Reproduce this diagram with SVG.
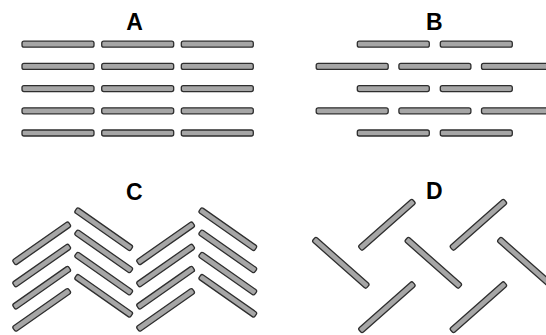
<svg xmlns="http://www.w3.org/2000/svg" xmlns:xlink="http://www.w3.org/1999/xlink" width="546" height="335" viewBox="0 0 546 335">
<style>
.bar{fill:#a6a6a6;stroke:#2e2e2e;stroke-width:1.3}
.lbl{font-family:"Liberation Sans",Arial,sans-serif;font-weight:bold;font-size:23px;fill:#000;text-anchor:middle}
</style>
<defs>
<rect id="h" class="bar" x="-36" y="-3" width="72" height="6" rx="2"/>
<rect id="c" class="bar" x="-34" y="-3" width="68" height="6" rx="2"/>
<rect id="d" class="bar" x="-36" y="-3" width="72" height="6" rx="2"/>
</defs>
<rect width="546" height="335" fill="#fff"/>
<g id="panelA">
<text class="lbl" x="134.5" y="30.3">A</text>
<use href="#h" transform="translate(58,44.2)"/><use href="#h" transform="translate(137.7,44.2)"/><use href="#h" transform="translate(217.3,44.2)"/>
<use href="#h" transform="translate(58,66.4)"/><use href="#h" transform="translate(137.7,66.4)"/><use href="#h" transform="translate(217.3,66.4)"/>
<use href="#h" transform="translate(58,88.6)"/><use href="#h" transform="translate(137.7,88.6)"/><use href="#h" transform="translate(217.3,88.6)"/>
<use href="#h" transform="translate(58,110.8)"/><use href="#h" transform="translate(137.7,110.8)"/><use href="#h" transform="translate(217.3,110.8)"/>
<use href="#h" transform="translate(58,133)"/><use href="#h" transform="translate(137.7,133)"/><use href="#h" transform="translate(217.3,133)"/>
</g>
<g id="panelB">
<text class="lbl" x="434.2" y="29.8">B</text>
<use href="#h" transform="translate(393.3,44.2)"/><use href="#h" transform="translate(476.3,44.2)"/>
<use href="#h" transform="translate(352.2,66.4)"/><use href="#h" transform="translate(434.9,66.4)"/><use href="#h" transform="translate(517.5,66.4)"/>
<use href="#h" transform="translate(393.3,88.6)"/><use href="#h" transform="translate(476.3,88.6)"/>
<use href="#h" transform="translate(352.2,110.8)"/><use href="#h" transform="translate(434.9,110.8)"/><use href="#h" transform="translate(517.5,110.8)"/>
<use href="#h" transform="translate(393.3,133)"/><use href="#h" transform="translate(476.3,133)"/>
</g>
<g id="panelC">
<text class="lbl" x="134.2" y="200">C</text>
<use href="#c" transform="translate(41.7,243.3) rotate(-35)"/>
<use href="#c" transform="translate(41.7,265.5) rotate(-35)"/>
<use href="#c" transform="translate(41.7,287.7) rotate(-35)"/>
<use href="#c" transform="translate(41.7,309.9) rotate(-35)"/>
<use href="#c" transform="translate(103.7,229.2) rotate(35)"/>
<use href="#c" transform="translate(103.7,251.4) rotate(35)"/>
<use href="#c" transform="translate(103.7,273.6) rotate(35)"/>
<use href="#c" transform="translate(103.7,295.8) rotate(35)"/>
<use href="#c" transform="translate(165.6,243.3) rotate(-35)"/>
<use href="#c" transform="translate(165.6,265.5) rotate(-35)"/>
<use href="#c" transform="translate(165.6,287.7) rotate(-35)"/>
<use href="#c" transform="translate(165.6,309.9) rotate(-35)"/>
<use href="#c" transform="translate(227.8,229.2) rotate(35)"/>
<use href="#c" transform="translate(227.8,251.4) rotate(35)"/>
<use href="#c" transform="translate(227.8,273.6) rotate(35)"/>
<use href="#c" transform="translate(227.8,295.8) rotate(35)"/>
</g>
<g id="panelD">
<text class="lbl" x="434.2" y="198.5">D</text>
<use href="#d" transform="translate(340.8,262.8) rotate(41.5)"/>
<use href="#d" transform="translate(433.3,262.8) rotate(41.5)"/>
<use href="#d" transform="translate(525.8,262.8) rotate(41.5)"/>
<use href="#d" transform="translate(386.9,224.8) rotate(-41.5)"/>
<use href="#d" transform="translate(478.4,224.8) rotate(-41.5)"/>
<use href="#d" transform="translate(386.9,307.2) rotate(-41.5)"/>
<use href="#d" transform="translate(478.4,307.2) rotate(-41.5)"/>
</g>
</svg>
